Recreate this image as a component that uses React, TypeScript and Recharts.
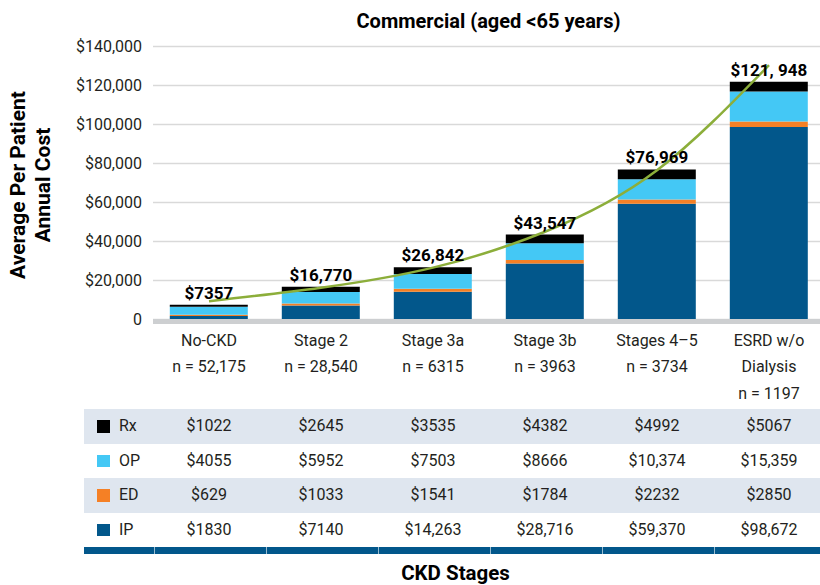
import React from "react";
import {
  ComposedChart,
  Bar,
  Line,
  XAxis,
  YAxis,
  CartesianGrid,
  LabelList,
} from "recharts";

const categories = ["No-CKD", "Stage 2", "Stage 3a", "Stage 3b", "Stages 4–5", "ESRD w/o\nDialysis"];
const nCounts = ["52,175", "28,540", "6315", "3963", "3734", "1197"];
const ipCost = [1830, 7140, 14263, 28716, 59370, 98672];
const edCost = [629, 1033, 1541, 1784, 2232, 2850];
const opCost = [4055, 5952, 7503, 8666, 10374, 15359];
const rxCost = [1022, 2645, 3535, 4382, 4992, 5067];
const totalLabels = ["$7357", "$16,770", "$26,842", "$43,547", "$76,969", "$121, 948"];
const trendValues = [9400, 16300, 26600, 45000, 76500, 130500];
const yTicks = [0, 20000, 40000, 60000, 80000, 100000, 120000, 140000];

const COLORS = {
  ip: "#02578b",
  ed: "#f58025",
  op: "#44c8f5",
  rx: "#000000",
  trend: "#8cae3a",
  text: "#231f20",
  rowShade: "#dfe6ef",
};

const data = categories.map((c, i) => ({
  cat: c,
  ip: ipCost[i],
  ed: edCost[i],
  op: opCost[i],
  rx: rxCost[i],
  total: totalLabels[i],
  trend: trendValues[i],
}));

const tableRows = [
  { label: "Rx", values: rxCost, color: COLORS.rx, shaded: true },
  { label: "OP", values: opCost, color: COLORS.op, shaded: false },
  { label: "ED", values: edCost, color: COLORS.ed, shaded: true },
  { label: "IP", values: ipCost, color: COLORS.ip, shaded: false },
];

const FONT = "Roboto, 'Noto Sans', sans-serif";
const PLOT_LEFT = 153;
const BAND = 112;
const fmtMoney = (v: number) => "$" + (v >= 10000 ? v.toLocaleString("en-US") : String(v));
const fmtTick = (v: number) => (v === 0 ? "0" : "$" + v.toLocaleString("en-US"));

const XTick = (props: any) => {
  const { x, y, payload } = props;
  const i = categories.indexOf(payload.value);
  const lines = [...String(payload.value).split("\n"), "n = " + nCounts[i]];
  return (
    <g>
      <rect x={x - BAND / 2} y={y - 0.5} width={BAND + 1} height={5} fill="#cdcfd1" />
      <text x={x} y={y} textAnchor="middle" fontSize={16} fill={COLORS.text} fontFamily={FONT}>
        {lines.map((l, k) => (
          <tspan key={k} x={x} dy={k === 0 ? 26 : 26.8}>
            {l}
          </tspan>
        ))}
      </text>
    </g>
  );
};

export default function App() {
  return (
    <div
      style={{
        position: "absolute",
        left: 0,
        top: 0,
        width: 820,
        height: 585,
        overflow: "hidden",
        background: "#fff",
        fontFamily: FONT,
      }}
    >
      <div style={{ position: "absolute", left: 0, top: 0 }}>
        <ComposedChart
          width={830}
          height={585}
          data={data}
          margin={{ top: 46.5, right: 5, left: 0, bottom: 175.5 }}
          barCategoryGap="15%"
        >
          <CartesianGrid vertical={false} stroke="#d9d9d9" strokeWidth={1.5} />
          <XAxis
            dataKey="cat"
            tick={<XTick />}
            tickLine={false}
            axisLine={false}
            tickSize={0}
            tickMargin={0}
            interval={0}
            height={90}
          />
          <YAxis
            width={153}
            domain={[0, 140000]}
            ticks={yTicks}
            tickFormatter={fmtTick}
            tickLine={false}
            axisLine={false}
            tickSize={0}
            tickMargin={11}
            tick={{ fontSize: 16, fill: COLORS.text, fontFamily: FONT }}
          />
          <Bar dataKey="ip" stackId="a" fill={COLORS.ip} isAnimationActive={false} />
          <Bar dataKey="ed" stackId="a" fill={COLORS.ed} isAnimationActive={false} />
          <Bar dataKey="op" stackId="a" fill={COLORS.op} isAnimationActive={false} />
          <Bar dataKey="rx" stackId="a" fill={COLORS.rx} isAnimationActive={false}>
            <LabelList
              dataKey="total"
              position="top"
              offset={6}
              fill="#000"
              fontSize={17}
              fontWeight={700}
              fontFamily={FONT}
            />
          </Bar>
          <Line
            dataKey="trend"
            type="natural"
            stroke={COLORS.trend}
            strokeWidth={2.5}
            dot={false}
            activeDot={false}
            isAnimationActive={false}
          />
        </ComposedChart>
      </div>

      <svg
        width={820}
        height={585}
        style={{ position: "absolute", left: 0, top: 0, pointerEvents: "none" }}
      >
        <text x={488.5} y={28} textAnchor="middle" fontSize={20} fontWeight={700} fill="#000" fontFamily={FONT}>
          Commercial (aged &lt;65 years)
        </text>
        <text transform="rotate(-90)" x={-185} y={25} textAnchor="middle" fontSize={21} fontWeight={700} fill="#000" fontFamily={FONT}>
          Average Per Patient
        </text>
        <text transform="rotate(-90)" x={-185} y={50} textAnchor="middle" fontSize={21} fontWeight={700} fill="#000" fontFamily={FONT}>
          Annual Cost
        </text>
        <text x={455.5} y={580} textAnchor="middle" fontSize={20.5} fontWeight={700} fill="#000" fontFamily={FONT}>
          CKD Stages
        </text>
      </svg>

      {tableRows.map((row, r) => (
        <div
          key={row.label}
          style={{
            position: "absolute",
            left: 84,
            top: 409 + r * 34.5,
            width: 760,
            height: 34.5,
            background: row.shaded ? COLORS.rowShade : "#fff",
          }}
        >
          <div
            style={{
              position: "absolute",
              left: 13,
              top: 11,
              width: 12.5,
              height: 12.5,
              background: row.color,
            }}
          />
          <div
            style={{
              position: "absolute",
              left: 35,
              top: 0,
              height: 34.5,
              lineHeight: "34.5px",
              fontSize: 16,
              color: COLORS.text,
            }}
          >
            {row.label}
          </div>
          {row.values.map((v, i) => (
            <div
              key={i}
              style={{
                position: "absolute",
                left: PLOT_LEFT + BAND * (i + 0.5) - 84 - 50,
                width: 100,
                top: 0,
                height: 34.5,
                lineHeight: "34.5px",
                textAlign: "center",
                fontSize: 16,
                color: COLORS.text,
              }}
            >
              {fmtMoney(v)}
            </div>
          ))}
        </div>
      ))}
      <div
        style={{
          position: "absolute",
          left: 84,
          top: 547,
          width: 760,
          height: 7,
          background: COLORS.ip,
        }}
      />
      {[0, 1, 2, 3, 4, 5].map((i) => (
        <div
          key={i}
          style={{
            position: "absolute",
            left: 154 + BAND * i,
            top: 547,
            width: 1,
            height: 7,
            background: "#ffffff",
            opacity: 0.6,
          }}
        />
      ))}
    </div>
  );
}
